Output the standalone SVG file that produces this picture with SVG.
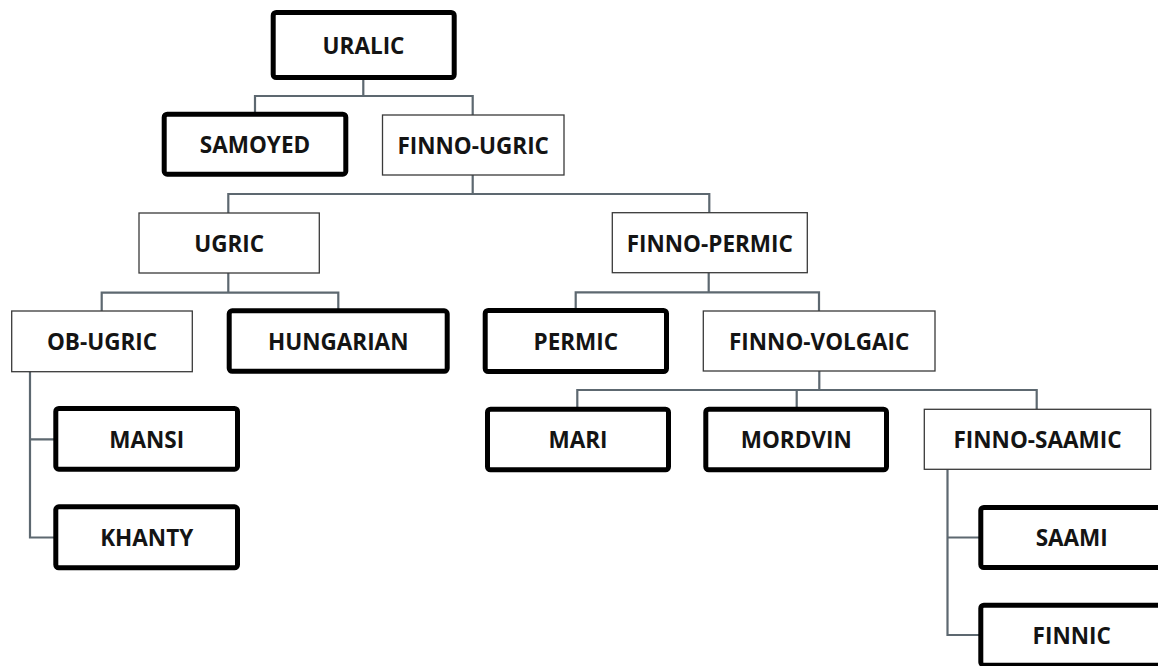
<svg xmlns="http://www.w3.org/2000/svg" width="1158" height="666" viewBox="0 0 1158 666">
<style>
.bg{fill:#ffffff}
.thick{fill:#ffffff;stroke:#000000;stroke-width:5;}
.thin{fill:#ffffff;stroke:#3a3a3a;stroke-width:1.3;}
.lbl{font-family:"Open Sans","Liberation Sans",sans-serif;font-weight:700;font-size:22.5px;fill:#141414;text-anchor:middle;}
.con{fill:none;stroke:#5d6870;stroke-width:2.2;}
</style>
<rect class="bg" x="0" y="0" width="1158" height="666"/>
<g id="connectors">
<path class="con" d="M363.3,78 V96 M255,112 V96 H472.7 V115"/>
<path class="con" d="M472.7,175 V194 M228.3,213 V194 H709.3 V213"/>
<path class="con" d="M228.3,273 V292.7 M101.7,311 V292.7 H338.3 V309"/>
<path class="con" d="M708.7,273 V292.3 M575.7,309 V292.3 H819 V311"/>
<path class="con" d="M30,371 V537.5 H56 M30,439.3 H56"/>
<path class="con" d="M819.3,371 V390 M577.3,409 V390 H1036.7 V409.3 M796.7,390 V409"/>
<path class="con" d="M947.5,469.3 V635 H981 M947.5,537.5 H981"/>
</g>
<g id="uralic"><rect class="thick" x="273.2" y="12.5" width="181" height="65" rx="3"/><text class="lbl" x="363.5" y="53.5">URALIC</text></g>
<g id="samoyed"><rect class="thick" x="164.2" y="114.2" width="181.6" height="60" rx="3"/><text class="lbl" x="255" y="152.5">SAMOYED</text></g>
<g id="finno-ugric"><rect class="thin" x="382.5" y="115" width="181.5" height="60"/><text class="lbl" x="473.2" y="153.5">FINNO-UGRIC</text></g>
<g id="ugric"><rect class="thin" x="139" y="213" width="180.3" height="60"/><text class="lbl" x="229.2" y="251.5">UGRIC</text></g>
<g id="finno-permic"><rect class="thin" x="612.3" y="212.7" width="195" height="60"/><text class="lbl" x="709.8" y="251.5">FINNO-PERMIC</text></g>
<g id="ob-ugric"><rect class="thin" x="11.7" y="311" width="180.6" height="60.7"/><text class="lbl" x="102" y="349.5">OB-UGRIC</text></g>
<g id="hungarian"><rect class="thick" x="229.2" y="310.8" width="218" height="60.5" rx="3"/><text class="lbl" x="338.2" y="349.5">HUNGARIAN</text></g>
<g id="permic"><rect class="thick" x="485.2" y="310.5" width="181.3" height="61" rx="3"/><text class="lbl" x="575.8" y="349.5">PERMIC</text></g>
<g id="finno-volgaic"><rect class="thin" x="703.3" y="311" width="231.7" height="60"/><text class="lbl" x="819.2" y="349.5">FINNO-VOLGAIC</text></g>
<g id="mansi"><rect class="thick" x="55.8" y="408.5" width="181.7" height="60.7" rx="3"/><text class="lbl" x="146.7" y="447.5">MANSI</text></g>
<g id="khanty"><rect class="thick" x="55.8" y="506.8" width="181.7" height="61" rx="3"/><text class="lbl" x="146.7" y="546">KHANTY</text></g>
<g id="mari"><rect class="thick" x="487.5" y="409.2" width="181" height="60.6" rx="3"/><text class="lbl" x="578" y="448">MARI</text></g>
<g id="mordvin"><rect class="thick" x="705.8" y="409.2" width="180.7" height="60.6" rx="3"/><text class="lbl" x="796.2" y="448">MORDVIN</text></g>
<g id="finno-saamic"><rect class="thin" x="924.3" y="409.3" width="226.4" height="60"/><text class="lbl" x="1037.5" y="448">FINNO-SAAMIC</text></g>
<g id="saami"><rect class="thick" x="980.8" y="507.5" width="181.8" height="60" rx="3"/><text class="lbl" x="1071.7" y="546">SAAMI</text></g>
<g id="finnic"><rect class="thick" x="980.8" y="605.2" width="181.8" height="60" rx="3"/><text class="lbl" x="1071.7" y="643.5">FINNIC</text></g>
</svg>
